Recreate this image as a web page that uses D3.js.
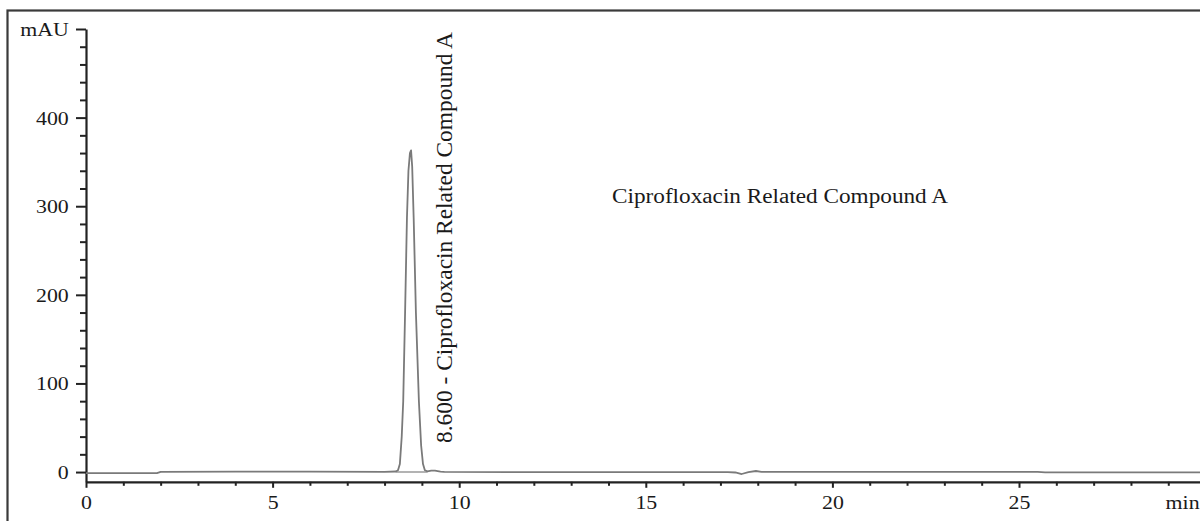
<!DOCTYPE html>
<html>
<head>
<meta charset="utf-8">
<script src="https://cdn.jsdelivr.net/npm/d3@7"></script>
<style>
  html, body { margin: 0; padding: 0; background: #fff; }
  svg { display: block; }
  text { font-family: "Liberation Serif", "DejaVu Serif", serif; fill: #1a1a1a; }
</style>
</head>
<body>
<div id="chart"></div>
<script>
// Chromatogram trace (time in min, signal in mAU)
const traceTime = [0, 1.9, 2.0, 4, 6, 8.0, 8.3, 8.36, 8.41, 8.46, 8.50, 8.55, 8.60, 8.64, 8.68, 8.71,
  8.74, 8.78, 8.84, 8.92, 8.98, 9.03, 9.08, 9.15, 9.25, 9.35, 9.5, 9.6, 12, 15, 17.2, 17.4, 17.57,
  17.75, 17.95, 18.1, 18.4, 22, 25.5, 25.7, 30];
const traceValue = [-1.2, -1.2, 0.3, 0.5, 0.4, 0.3, 0.6, 2, 9, 40, 80, 180, 287, 340, 360, 363,
  345, 287, 180, 80, 30, 9, 2, 0.8, 1.6, 1.6, 0.6, 0.1, 0, 0, 0, -0.5, -2.2, 0, 1.2, 0.3, 0.2,
  0.2, 0.1, -0.4, -0.4];

// integration baseline under the peak
const peakBaseTime = [8.3, 9.15];
const peakBaseValue = [0, 0];

const xMajorTicks = [0, 5, 10, 15, 20, 25];
const xMinorTicks = d3.range(1, 30).filter(d => d % 5 !== 0);
const yMajorTicks = [0, 100, 200, 300, 400, 500];
const yMinorTicks = d3.range(-0, 500, 20).filter(d => d % 100 !== 0);
const yTickLabels = ['0', '100', '200', '300', '400', 'mAU'];

const peakLabel = '8.600 - Ciprofloxacin Related Compound A';
const titleLabel = 'Ciprofloxacin Related Compound A';
const xUnit = 'min';

const W = 1200, H = 521;

const svg = d3.select('#chart')
  .append('svg')
  .attr('width', W)
  .attr('height', H);

// outer frame (runs past the right and bottom edges)
svg.append('rect')
  .attr('x', 7.5).attr('y', 10.5)
  .attr('width', 1220).attr('height', 560)
  .attr('fill', 'none')
  .attr('stroke', '#3a3a3a')
  .attr('stroke-width', 2.2);

const x = d3.scaleLinear().domain([0, 30]).range([86, 1205.6]);
const y = d3.scaleLinear().domain([-11, 500]).range([481.8, 29]);

const xAxisY = y(-11);
const yAxisX = x(0);

// X axis: minor ticks, then major ticks with labels
svg.append('g')
  .attr('transform', `translate(0,${xAxisY})`)
  .call(d3.axisBottom(x).tickValues(xMinorTicks).tickSize(4).tickFormat(''))
  .call(g => g.select('.domain').remove())
  .call(g => g.selectAll('.tick line').attr('stroke', '#222').attr('stroke-width', 2));

svg.append('g')
  .attr('transform', `translate(0,${xAxisY})`)
  .call(d3.axisBottom(x).tickValues(xMajorTicks).tickSize(6).tickSizeOuter(0).tickFormat(d3.format('d')))
  .call(g => g.select('.domain').attr('stroke', '#222').attr('stroke-width', 2.2))
  .call(g => g.selectAll('.tick line').attr('stroke', '#222').attr('stroke-width', 2))
  .call(g => g.selectAll('.tick text')
    .attr('y', 27).attr('dy', 0)
    .attr('transform', 'scale(1.15,1)')
    .style('font-size', '19px')
    .style('fill', '#1a1a1a'));

svg.append('text')
  .attr('x', x(30) - 40)
  .attr('y', xAxisY + 27)
  .attr('transform', `translate(${x(30) - 40},0) scale(1.15,1) translate(${-(x(30) - 40)},0)`)
  .style('font-size', '19px')
  .text(xUnit);

// Y axis
svg.append('g')
  .attr('transform', `translate(${yAxisX},0)`)
  .call(d3.axisLeft(y).tickValues(yMinorTicks).tickSize(6).tickFormat(''))
  .call(g => g.select('.domain').remove())
  .call(g => g.selectAll('.tick line').attr('stroke', '#222').attr('stroke-width', 2));

svg.append('g')
  .attr('transform', `translate(${yAxisX},0)`)
  .call(d3.axisLeft(y).tickValues(yMajorTicks).tickSize(10).tickSizeOuter(0)
    .tickFormat((d, i) => yTickLabels[i]))
  .call(g => g.select('.domain').attr('stroke', '#222').attr('stroke-width', 2.2))
  .call(g => g.selectAll('.tick line').attr('stroke', '#222').attr('stroke-width', 2))
  .call(g => g.selectAll('.tick text')
    .attr('x', -15).attr('dy', '0.34em')
    .attr('transform', 'scale(1.15,1)')
    .style('font-size', '19px')
    .style('fill', '#1a1a1a'));

// trace
const line = d3.line()
  .x(d => x(d[0]))
  .y(d => y(d[1]));

svg.append('path')
  .datum(d3.zip(peakBaseTime, peakBaseValue))
  .attr('d', line)
  .attr('fill', 'none')
  .attr('stroke', '#9a9a9a')
  .attr('stroke-width', 1.4);

svg.append('path')
  .datum(d3.zip(traceTime, traceValue))
  .attr('d', line)
  .attr('fill', 'none')
  .attr('stroke', '#7a7a7a')
  .attr('stroke-width', 1.8)
  .attr('stroke-linejoin', 'round');

// peak label, rotated
svg.append('text')
  .attr('transform', `translate(452,443) rotate(-90) scale(1,1.15)`)
  .attr('textLength', 411)
  .attr('lengthAdjust', 'spacingAndGlyphs')
  .style('font-size', '20px')
  .text(peakLabel);

// chart title annotation
svg.append('text')
  .attr('x', 612).attr('y', 203)
  .attr('textLength', 336)
  .attr('lengthAdjust', 'spacingAndGlyphs')
  .style('font-size', '20px')
  .text(titleLabel);
</script>
</body>
</html>
